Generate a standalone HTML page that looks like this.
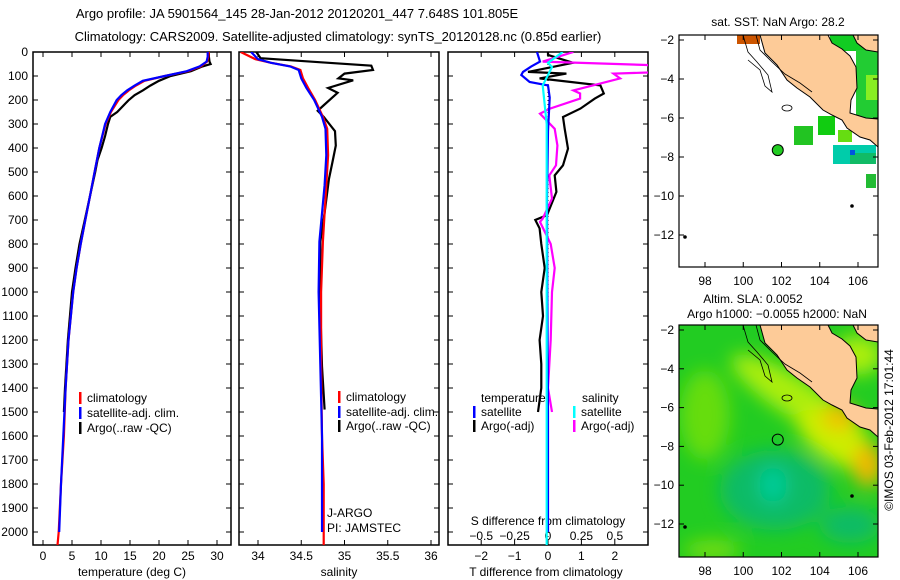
<!DOCTYPE html>
<html><head><meta charset="utf-8"><style>
html,body{margin:0;padding:0;background:#fff;}
svg{display:block;font-family:"Liberation Sans",sans-serif;}
</style></head><body>
<svg id="fig" width="900" height="580" viewBox="0 0 900 580" xmlns="http://www.w3.org/2000/svg">
<defs>
<clipPath id="c1"><rect x="33" y="52" width="198" height="493"/></clipPath>
<clipPath id="c2"><rect x="239" y="52" width="200" height="493"/></clipPath>
<clipPath id="c3"><rect x="448" y="52" width="200" height="493"/></clipPath>
<clipPath id="cm1"><rect x="679" y="35" width="199" height="232"/></clipPath>
<clipPath id="cm2"><rect x="679" y="325" width="199" height="232"/></clipPath>
<filter id="blur" x="-20%" y="-20%" width="140%" height="140%"><feGaussianBlur stdDeviation="9"/></filter>
</defs>
<text x="297" y="18" font-size="13" text-anchor="middle">Argo profile: JA 5901564_145 28-Jan-2012 20120201_447 7.648S 101.805E</text>
<text x="338" y="41" font-size="13" text-anchor="middle">Climatology: CARS2009. Satellite-adjusted climatology: synTS_20120128.nc (0.85d earlier)</text>
<g id="g1"></g>
<g id="g2"></g>
<g id="g3"></g>
<g id="m1"></g>
<g id="m2"></g>
<text transform="translate(893,430) rotate(-90)" font-size="12" text-anchor="middle">©IMOS 03-Feb-2012 17:01:44</text>
</svg>
<script>
// ---- data ----
const depthTClim=[0,20,40,60,80,100,120,140,160,180,200,250,300,400,500,600,700,800,900,1000,1200,1400,1600,1800,2000,2055];
const tempClim=[28.6,28.5,28.3,27.2,25,21,17.5,16,14.8,13.8,13,11.7,10.8,9.7,8.9,8.1,7.3,6.5,5.8,5.2,4.4,3.9,3.6,3.1,2.7,2.5];
const depthTSat=[0,20,40,60,80,100,120,140,160,180,200,250,300,400,500,600,700,800,900,1000,1200,1400,1600,1800,2000];
const tempSat=[28.4,28.4,28.2,27,24.8,21,17.2,15.8,14.5,13.5,12.7,11.6,10.7,9.7,8.9,8.1,7.3,6.5,5.8,5.2,4.4,3.9,3.5,3.1,2.8];
const depthTArgo=[0,20,40,50,60,80,100,120,140,160,180,200,220,250,270,300,350,400,450,500,600,700,800,900,1000,1200,1400,1500];
const tempArgo=[28.6,28.6,28.7,28.9,27.5,25.5,22,20,18.5,17.2,15.8,14.8,14,12.8,11.6,11.2,10.7,10.1,9.4,9,8.1,7.2,6.3,5.6,5,4.3,3.8,3.6];
const depthSClim=[0,30,45,60,75,110,150,200,270,320,430,555,790,1000,1300,1600,1800,2055];
const salClim=[33.80,33.97,34.15,34.38,34.49,34.52,34.58,34.66,34.75,34.80,34.81,34.79,34.75,34.73,34.73,34.74,34.76,34.76];
const depthSSat=[0,30,45,60,75,110,150,200,270,320,430,555,790,1000,1300,1600,2000];
const salSat=[33.92,34.0,34.15,34.37,34.47,34.50,34.56,34.65,34.74,34.78,34.79,34.77,34.71,34.70,34.72,34.74,34.74];
const depthSArgo=[0,26,43,57,75,90,110,118,150,170,225,245,270,330,390,460,530,670,790,1060,1310,1490];
const salArgo=[33.98,34.03,34.73,35.31,35.33,35.0,34.93,35.1,34.81,34.92,34.75,34.69,34.76,34.89,34.9,34.86,34.82,34.77,34.72,34.72,34.74,34.77];
const depthDTSat=[0,40,60,83,96,125,139,190,330,610,1000,1500,2000];
const dTSat=[-0.33,-0.24,-0.5,-0.75,-0.8,-0.55,0,0.05,0,-0.03,-0.02,0,0];
const depthDSSat=[0,45,63,139,300,600,1000,1500,2055];
const dSSat=[0.11,0,0.03,-0.04,-0.01,-0.01,-0.01,-0.01,-0.01];
const depthDTArgo=[0,12,45,83,90,110,139,173,194,236,271,320,403,472,514,583,680,700,735,800,900,1000,1100,1200,1300,1400,1500];
const dTArgo=[0,0,0.75,-0.6,0.55,-0.25,1.57,1.67,1.4,0.97,0.45,0.5,0.6,0.45,0.2,0.25,-0.03,-0.38,-0.25,-0.2,-0.1,-0.2,-0.15,-0.25,-0.2,-0.2,-0.3];
const depthDSArgo=[0,40,54,83,90,110,160,173,194,236,257,320,389,472,514,611,694,708,800,900,1000,1200,1400,1500];
const dSArgo=[0.19,-0.04,0.74,0.9,0.49,0.54,0.19,0.24,0.24,0.015,-0.06,0.05,0.07,0.06,0.01,0.03,-0.04,-0.06,0.02,0.05,0.03,0.02,0.0,0.03];
const depthTicks=[0,100,200,300,400,500,600,700,800,900,1000,1100,1200,1300,1400,1500,1600,1700,1800,1900,2000];
const tempTicks=[0,5,10,15,20,25,30];
const salTicks=[34,34.5,35,35.5,36];
const dTTicks=[-2,-1,0,1,2];
const dSTicks=[-0.5,-0.25,0,0.25,0.5];
const lonTicks=[98,100,102,104,106];
const latTicks=[-2,-4,-6,-8,-10,-12];
const argoLon=101.805, argoLat=-7.648;

const NS='http://www.w3.org/2000/svg';
function mk(tag,attrs,parent,txt){const e=document.createElementNS(NS,tag);for(const k in attrs)e.setAttribute(k,attrs[k]);if(txt!==undefined)e.textContent=txt;parent.appendChild(e);return e;}
const yD=d=>52+d*0.24;
const xT=t=>43+t*5.8;
const xS=s=>258+(s-34)*86.5;
const xDT=v=>548+v*33.4;
const xDS=v=>548+v*133.6;

function frame(g,x0,x1,name){
  const r=mk('rect',{x:x0,y:52,width:x1-x0,height:493,fill:'none',stroke:'#000','stroke-width':1.5},g);
  
  
  depthTicks.forEach(d=>{
    mk('line',{x1:x0,x2:x0+5,y1:yD(d),y2:yD(d),stroke:'#000'},g);
    mk('line',{x1:x1-5,x2:x1,y1:yD(d),y2:yD(d),stroke:'#000'},g);
  });
}
function xticks(g,ticks,fx,labels,name){
  ticks.forEach((t,i)=>{
    const x=fx(t);
    mk('line',{x1:x,x2:x,y1:545,y2:540,stroke:'#000'},g);
    mk('line',{x1:x,x2:x,y1:52,y2:57,stroke:'#000'},g);
    const tx=mk('text',{x:x,y:560,'font-size':12,'text-anchor':'middle'},g,labels?labels[i]:String(t));
    
    
  });
}
function line(g,clip,ds,vs,fx,color,name){
  const pts=ds.map((d,i)=>fx(vs[i]).toFixed(1)+','+yD(d).toFixed(1)).join(' ');
  const p=mk('polyline',{points:pts,fill:'none',stroke:color,'stroke-width':2.2,'clip-path':'url(#'+clip+')'},g);
  
  
}
function legend(g,x,y,color,label,name){
  mk('rect',{x:x,y:y-6,width:2.5,height:12,fill:color},g);
  const t=mk('text',{x:x+8,y:y+4,'font-size':12},g,label);
  
  
}

// Panel 1
const g1=document.getElementById('g1');
frame(g1,33,231,'temperature-frame');
depthTicks.forEach(d=>{
  const t=mk('text',{x:28,y:yD(d)+4,'font-size':12,'text-anchor':'end'},g1,String(d));
  
  
});
xticks(g1,tempTicks,xT,null,'temperature-tick-label');
let tt=mk('text',{x:132,y:576,'font-size':12,'text-anchor':'middle'},g1,'temperature (deg C)');


line(g1,'c1',depthTArgo,tempArgo,xT,'#000','argo-temperature-line');
line(g1,'c1',depthTClim,tempClim,xT,'#ff0000','clim-temperature-line');
line(g1,'c1',depthTSat,tempSat,xT,'#0000ff','sat-temperature-line');
legend(g1,79,398,'#ff0000','climatology','legend-climatology');
legend(g1,79,413,'#0000ff','satellite-adj. clim.','legend-satellite');
legend(g1,79,428,'#000','Argo(..raw -QC)','legend-argo');

// Panel 2
const g2=document.getElementById('g2');
frame(g2,239,439,'salinity-frame');
xticks(g2,salTicks,xS,null,'salinity-tick-label');
tt=mk('text',{x:339,y:576,'font-size':12,'text-anchor':'middle'},g2,'salinity');


line(g2,'c2',depthSArgo,salArgo,xS,'#000','argo-salinity-line');
line(g2,'c2',depthSClim,salClim,xS,'#ff0000','clim-salinity-line');
line(g2,'c2',depthSSat,salSat,xS,'#0000ff','sat-salinity-line');
legend(g2,338,397,'#ff0000','climatology','legend-climatology-2');
legend(g2,338,412,'#0000ff','satellite-adj. clim.','legend-satellite-2');
legend(g2,338,426,'#000','Argo(..raw -QC)','legend-argo-2');
tt=mk('text',{x:327,y:517,'font-size':12},g2,'J-ARGO');


tt=mk('text',{x:327,y:532,'font-size':12},g2,'PI: JAMSTEC');



// Panel 3
const g3=document.getElementById('g3');
frame(g3,448,648,'difference-frame');
mk('line',{x1:548,x2:548,y1:52,y2:545,stroke:'#000','stroke-dasharray':'1,3'},g3);
xticks(g3,dTTicks,xDT,['\u22122','\u22121','0','1','2'],'t-diff-tick-label');
dSTicks.forEach(v=>{
  const t=mk('text',{x:xDS(v),y:540,'font-size':12,'text-anchor':'middle'},g3,String(v).replace('-','\u2212'));
  
  
});
tt=mk('text',{x:548,y:525,'font-size':12,'text-anchor':'middle'},g3,'S difference from climatology');


tt=mk('text',{x:546,y:576,'font-size':12,'text-anchor':'middle'},g3,'T difference from climatology');


line(g3,'c3',depthDTArgo,dTArgo,xDT,'#000','argo-t-diff-line');
line(g3,'c3',depthDSArgo,dSArgo,xDS,'#ff00ff','argo-s-diff-line');
line(g3,'c3',depthDTSat,dTSat,xDT,'#0000ff','sat-t-diff-line');
line(g3,'c3',depthDSSat,dSSat,xDS,'#00ffff','sat-s-diff-line');
tt=mk('text',{x:481,y:402,'font-size':12},g3,'temperature');


tt=mk('text',{x:582,y:402,'font-size':12},g3,'salinity');


legend(g3,473,412,'#0000ff','satellite','legend-t-satellite');
legend(g3,473,426,'#000','Argo(-adj)','legend-t-argo');
legend(g3,573,412,'#00ffff','satellite','legend-s-satellite');
legend(g3,573,426,'#ff00ff','Argo(-adj)','legend-s-argo');

// Maps
const xL=lon=>705+(lon-98)*19.125;
const land=[[760,35],[828,35],[832,43],[842,49],[850,56],[856,67],[857,88],[851,100],[850,113],[866,118],[878,119],[878,147],[870,140],[860,137],[847,128],[842,120],[832,115],[823,110],[810,97],[797,88],[787,80],[777,65],[765,53]];
const land2=[[853,35],[878,35],[878,52],[866,50],[857,43]];
function map(gid,top,clip,kind,titles){
  const g=document.getElementById(gid);
  const yL=lat=>top+5+(-2-lat)*(kind==='sst'?19.5:19.4);
  const cg=mk('g',{'clip-path':'url(#'+clip+')'},g);
  if(kind==='sst'){
    mk('rect',{x:679,y:top,width:199,height:232,fill:'#fff'},cg);
    mk('rect',{x:737,y:top,width:23,height:9,fill:'#cc5500'},cg);
    [[830,0,48,16,'#11cc22'],[856,15,22,85,'#22cc33'],[866,40,12,25,'#88ee22'],[794,91,19,19,'#22c422'],[818,81,17,19,'#11cc11'],[833,110,43,19,'#00ccaa'],[850,118,26,11,'#11bb66'],[866,139,10,14,'#22bb33'],[838,95,14,12,'#66dd11']].forEach(r=>{
      const e=mk('rect',{x:r[0],y:top+r[1],width:r[2],height:r[3],fill:r[4]},cg);
      
      
    });
    mk('rect',{x:850,y:top+115,width:5,height:5,fill:'#0055dd'},cg);
  } else {
    mk('rect',{x:679,y:top,width:199,height:232,fill:'#22cc22'},cg);
    const bg=mk('g',{filter:'url(#blur)'},cg);
    [['ellipse',{cx:705,cy:top+90,rx:25,ry:45,fill:'#66dd11'}],
     ['ellipse',{cx:800,cy:top+75,rx:80,ry:20,fill:'#aaee11',transform:'rotate(32 800 '+(top+75)+')'}],
     ['ellipse',{cx:835,cy:top+115,rx:45,ry:20,fill:'#ccee00',transform:'rotate(35 835 '+(top+115)+')'}],
     ['ellipse',{cx:840,cy:top+92,rx:18,ry:13,fill:'#f2c000'}],
     ['ellipse',{cx:868,cy:top+140,rx:15,ry:22,fill:'#f2b800'}],
     ['ellipse',{cx:775,cy:top+165,rx:55,ry:40,fill:'#11bb66'}],
     ['ellipse',{cx:773,cy:top+160,rx:14,ry:18,fill:'#00cc99'}],
     ['ellipse',{cx:850,cy:top+200,rx:30,ry:18,fill:'#11bb66'}],
     ['ellipse',{cx:712,cy:top+225,rx:28,ry:10,fill:'#77dd11'}],
     ['ellipse',{cx:858,cy:top+30,rx:25,ry:20,fill:'#aaee11'}]].forEach(s=>{
      const e=mk(s[0],s[1],bg);
      
      
    });
  }
  const off=top-35;
  [land,land2].forEach(L=>{
    const p=mk('polygon',{points:L.map(p=>p[0]+','+(p[1]+off)).join(' '),fill:'#fdcb98',stroke:'#000','stroke-width':1},cg);
    
    
  });
  mk('polyline',{points:[[743,35],[748,52],[757,62],[768,75],[772,92],[765,86],[760,70],[748,60]].map(p=>p[0]+','+(p[1]+off)).join(' '),fill:'none',stroke:'#000','stroke-width':0.8},cg);
  mk('polyline',{points:[[756,35],[760,50],[772,62],[785,74],[800,83],[812,92]].map(p=>p[0]+','+(p[1]+off)).join(' '),fill:'none',stroke:'#000','stroke-width':0.8},cg);
  mk('ellipse',{cx:787,cy:top+73,rx:5,ry:3,fill:'none',stroke:'#000','stroke-width':0.8},cg);
  mk('circle',{cx:852,cy:top+171,r:1.8,fill:'#000'},cg);
  mk('circle',{cx:685,cy:top+202,r:1.8,fill:'#000'},cg);
  const pt=mk('circle',{cx:xL(argoLon),cy:yL(argoLat),r:5.5,fill:kind==='sst'?'#22cc22':'none',stroke:'#000','stroke-width':1},g);
  
  
  const fr=mk('rect',{x:679,y:top,width:199,height:232,fill:'none',stroke:'#000','stroke-width':1.2},g);
  
  
  lonTicks.forEach(l=>{
    const x=xL(l);
    mk('line',{x1:x,x2:x,y1:top+232,y2:top+227,stroke:'#000'},g);
    mk('line',{x1:x,x2:x,y1:top,y2:top+5,stroke:'#000'},g);
    const t=mk('text',{x:x,y:top+250,'font-size':12,'text-anchor':'middle'},g,String(l));
    
    
  });
  latTicks.forEach(l=>{
    const y=yL(l);
    mk('line',{x1:679,x2:684,y1:y,y2:y,stroke:'#000'},g);
    mk('line',{x1:873,x2:878,y1:y,y2:y,stroke:'#000'},g);
    const t=mk('text',{x:674,y:y+4,'font-size':12,'text-anchor':'end'},g,String(l).replace('-','\u2212'));
    
    
  });
  titles.forEach(tl=>{
    const t=mk('text',{x:tl[0],y:tl[1],'font-size':12,'text-anchor':'middle'},g,tl[2]);
    
    
  });
}
map('m1',35,'cm1','sst',[[778,26,'sat. SST: NaN Argo: 28.2']]);
map('m2',325,'cm2','sla',[[753,303,'Altim. SLA: 0.0052'],[777,318,'Argo h1000: \u22120.0055 h2000: NaN']]);
</script>
</body></html>
